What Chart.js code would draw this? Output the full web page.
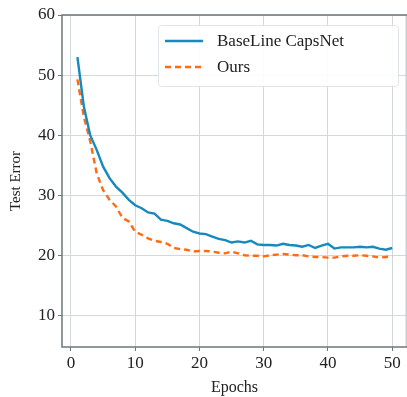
<!DOCTYPE html>
<html>
<head>
<meta charset="utf-8">
<script src="https://cdn.jsdelivr.net/npm/chart.js@4"></script>
<style>
  html, body { margin: 0; padding: 0; background: #fff; overflow: hidden; }
  #wrap { width: 407px; height: 397px; }
</style>
</head>
<body>
<div id="wrap"><canvas id="chart" width="407" height="397"></canvas></div>
<script>
const epochs = Array.from({ length: 50 }, (_, i) => i + 1);

const baseline = [
  53.0, 44.8, 40.0, 37.6, 34.8, 32.9, 31.5, 30.5, 29.3, 28.4,
  27.9, 27.2, 27.0, 26.0, 25.8, 25.4, 25.2, 24.6, 24.0, 23.7,
  23.6, 23.2, 22.8, 22.6, 22.2, 22.4, 22.2, 22.5, 21.9, 21.8,
  21.8, 21.7, 22.0, 21.8, 21.7, 21.5, 21.8, 21.3, 21.7, 22.0,
  21.2, 21.4, 21.4, 21.4, 21.5, 21.4, 21.5, 21.2, 21.0, 21.3
];

const ours = [
  49.3, 43.1, 39.0, 33.7, 30.9, 29.3, 28.2, 26.3, 25.7, 24.0,
  23.5, 22.9, 22.5, 22.3, 22.0, 21.3, 21.1, 21.0, 20.7, 20.8,
  20.8, 20.7, 20.5, 20.4, 20.7, 20.4, 20.1, 20.0, 20.0, 19.9,
  20.1, 20.2, 20.3, 20.2, 20.1, 20.1, 19.9, 19.8, 19.8, 19.7,
  19.7, 19.9, 20.0, 20.0, 20.1, 20.0, 19.9, 19.7, 19.8, 19.9
];

const seriesNames = ['BaseLine CapsNet', 'Ours'];
const xTicks = [0, 10, 20, 30, 40, 50];
const yTicks = [10, 20, 30, 40, 50, 60];

const serif = "'Liberation Serif', 'DejaVu Serif', serif";
const gridColor = '#d3d8dc';
const spineColor = '#6e777b';

// frame round the plot area; the right spine is faint in the original
const framePlugin = {
  id: 'frame',
  afterDraw(chart) {
    const { ctx, chartArea: a } = chart;
    ctx.save();
    ctx.lineWidth = 1.5;
    ctx.strokeStyle = '#c9cfd2';
    ctx.beginPath();
    ctx.moveTo(a.right - 0.75, a.top);
    ctx.lineTo(a.right - 0.75, a.bottom);
    ctx.stroke();
    ctx.strokeStyle = spineColor;
    ctx.beginPath();
    ctx.moveTo(a.right, a.top);
    ctx.lineTo(a.left, a.top);
    ctx.lineTo(a.left, a.bottom);
    ctx.lineTo(a.right, a.bottom);
    ctx.stroke();
    ctx.restore();
  }
};

// legend box in the upper right, matplotlib style
const legendPlugin = {
  id: 'boxLegend',
  afterDraw(chart) {
    const { ctx } = chart;
    const box = { x: 158, y: 25, w: 240, h: 61 };
    ctx.save();
    ctx.fillStyle = 'rgba(255,255,255,0.9)';
    ctx.strokeStyle = '#e2e5e7';
    ctx.lineWidth = 1;
    ctx.beginPath();
    ctx.roundRect(box.x + 0.5, box.y + 0.5, box.w, box.h, 3);
    ctx.fill();
    ctx.stroke();
    ctx.font = '17px ' + serif;
    ctx.textBaseline = 'middle';
    chart.data.datasets.forEach((ds, i) => {
      const y = box.y + 16 + i * 26;
      ctx.strokeStyle = ds.borderColor;
      ctx.lineWidth = ds.borderWidth;
      ctx.setLineDash(ds.borderDash || []);
      ctx.beginPath();
      ctx.moveTo(box.x + 7, y);
      ctx.lineTo(box.x + 45, y);
      ctx.stroke();
      ctx.setLineDash([]);
      ctx.fillStyle = '#222';
      ctx.fillText(ds.label, box.x + 59, y + 1);
    });
    ctx.restore();
  }
};

new Chart(document.getElementById('chart'), {
  type: 'line',
  data: {
    labels: epochs,
    datasets: [
      {
        label: seriesNames[0],
        data: baseline.map((v, i) => ({ x: epochs[i], y: v })),
        borderColor: '#1689bf',
        borderWidth: 2.4,
        pointRadius: 0,
        tension: 0
      },
      {
        label: seriesNames[1],
        data: ours.map((v, i) => ({ x: epochs[i], y: v })),
        borderColor: '#ff6a12',
        borderWidth: 2.4,
        borderDash: [6, 4],
        pointRadius: 0,
        tension: 0
      }
    ]
  },
  options: {
    responsive: false,
    animation: false,
    layout: { padding: { top: 15, right: 0, left: 0, bottom: 0 } },
    plugins: {
      legend: { display: false },
      tooltip: { enabled: false }
    },
    scales: {
      x: {
        type: 'linear',
        min: -1.4,
        max: 52.3,
        afterBuildTicks: s => { s.ticks = xTicks.map(v => ({ value: v })); },
        afterFit: s => { s.height = 50; },
        grid: { color: gridColor, tickColor: spineColor, tickLength: 4, lineWidth: 1 },
        border: { display: false },
        ticks: { color: '#222', font: { family: serif, size: 17 }, padding: 2, maxRotation: 0 },
        title: { display: true, text: 'Epochs', color: '#222', font: { family: serif, size: 16 }, padding: { top: 2, bottom: 0 } }
      },
      y: {
        min: 4.85,
        max: 60,
        afterBuildTicks: s => { s.ticks = yTicks.map(v => ({ value: v })); },
        afterFit: s => { s.width = 62; },
        grid: { color: gridColor, tickColor: spineColor, tickLength: 4, lineWidth: 1 },
        border: { display: false },
        ticks: { color: '#222', font: { family: serif, size: 17 }, padding: 3 },
        title: { display: true, text: 'Test Error', color: '#222', font: { family: serif, size: 15 }, padding: { top: 7, bottom: 0 } }
      }
    }
  },
  plugins: [framePlugin, legendPlugin]
});
</script>
</body>
</html>
